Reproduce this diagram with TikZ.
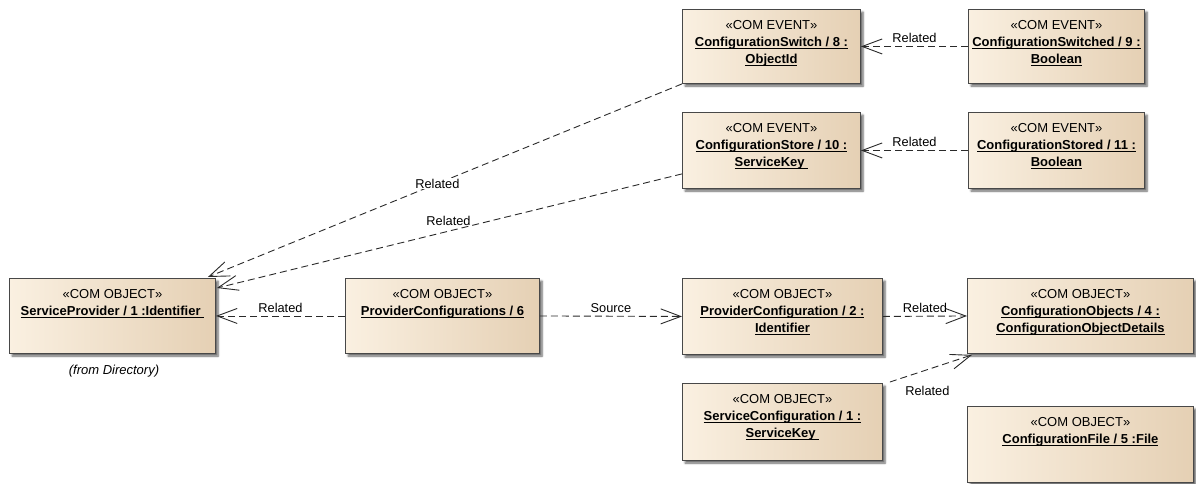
\documentclass[tikz,border=0pt]{standalone}
\usepackage{fontspec}
\setmainfont{Liberation Sans}
\usetikzlibrary{arrows.meta,shadows.blur,calc}

% underlined instance name
\newcommand\uname[1]{\setbox0=\hbox{#1}\rlap{\rule[-2.3pt]{\wd0}{1.2pt}}\box0}
\newcommand\stereo[1]{«#1»}

\definecolor{boxleft}{HTML}{FAF0E1}
\definecolor{boxright}{HTML}{E5D0B4}
\definecolor{boxedge}{HTML}{484848}
\definecolor{linkcol}{HTML}{2A2A2A}

\tikzset{
  umlbox/.style={draw=boxedge, line width=0.9pt, left color=boxleft, right color=boxright,
    anchor=north west, inner sep=0pt,
    blur shadow={shadow xshift=2.6pt, shadow yshift=-2.6pt, shadow blur radius=2pt,
      shadow blur steps=6, shadow opacity=60}},
  boxtext/.style={anchor=north, inner sep=0pt, align=center,
    font=\fontsize{13}{17}\selectfont},
  rel/.style={draw=linkcol, line width=0.9pt, dash pattern=on 7pt off 4pt,
    -{Straight Barb[length=20pt,width=15pt]}},
  rellabel/.style={inner sep=1pt, font=\fontsize{12.8}{15}\selectfont},
}

\begin{document}
\begin{tikzpicture}[x=1pt,y=-1pt]
\useasboundingbox (0,0) rectangle (1196,483);

% ---- boxes ----
\node[umlbox, minimum width=206pt, minimum height=75pt] (sp) at (9,278) {};
\node[boxtext, yshift=-11.5pt] (sptext) at (sp.north)
  {\stereo{COM OBJECT}\\\bfseries\uname{ServiceProvider / 1 :Identifier }};
\node[font=\fontsize{13}{15}\selectfont\itshape, inner sep=0pt] (spnote) at (114,371) {(from Directory)};

\node[umlbox, minimum width=194pt, minimum height=75pt] (pcs) at (345,278) {};
\node[boxtext, yshift=-11.5pt] (pcstext) at (pcs.north)
  {\stereo{COM OBJECT}\\\bfseries\uname{ProviderConfigurations / 6}};

\node[umlbox, minimum width=200pt, minimum height=76pt] (pc) at (682,278) {};
\node[boxtext, yshift=-11.5pt] (pctext) at (pc.north)
  {\stereo{COM OBJECT}\\\bfseries\uname{ProviderConfiguration / 2 :}\\\bfseries\uname{Identifier}};

\node[umlbox, minimum width=226pt, minimum height=75pt] (co) at (967,278) {};
\node[boxtext, yshift=-11.5pt] (cotext) at (co.north)
  {\stereo{COM OBJECT}\\\bfseries\uname{ConfigurationObjects / 4 :}\\\bfseries\uname{ConfigurationObjectDetails}};

\node[umlbox, minimum width=200pt, minimum height=77pt] (sc) at (682,383) {};
\node[boxtext, yshift=-11.5pt] (sctext) at (sc.north)
  {\stereo{COM OBJECT}\\\bfseries\uname{ServiceConfiguration / 1 :}\\\bfseries\uname{ServiceKey }};

\node[umlbox, minimum width=226pt, minimum height=76pt] (cf) at (967,406) {};
\node[boxtext, yshift=-11.5pt] (cftext) at (cf.north)
  {\stereo{COM OBJECT}\\\bfseries\uname{ConfigurationFile / 5 :File}};

\node[umlbox, minimum width=178pt, minimum height=74pt] (sw) at (682,9) {};
\node[boxtext, yshift=-11.5pt] (swtext) at (sw.north)
  {\stereo{COM EVENT}\\\bfseries\uname{ConfigurationSwitch / 8 :}\\\bfseries\uname{ObjectId}};

\node[umlbox, minimum width=176pt, minimum height=74pt] (sd) at (968,9) {};
\node[boxtext, yshift=-11.5pt] (sdtext) at (sd.north)
  {\stereo{COM EVENT}\\\bfseries\uname{ConfigurationSwitched / 9 :}\\\bfseries\uname{Boolean}};

\node[umlbox, minimum width=178pt, minimum height=76pt] (cs) at (682,112) {};
\node[boxtext, yshift=-11.5pt] (cstext) at (cs.north)
  {\stereo{COM EVENT}\\\bfseries\uname{ConfigurationStore / 10 :}\\\bfseries\uname{ServiceKey }};

\node[umlbox, minimum width=176pt, minimum height=76pt] (cd) at (968,112) {};
\node[boxtext, yshift=-11.5pt] (cdtext) at (cd.north)
  {\stereo{COM EVENT}\\\bfseries\uname{ConfigurationStored / 11 :}\\\bfseries\uname{Boolean}};

% ---- dependencies ----
\draw[rel] (sd.west) -- node[rellabel, pos=0.5, yshift=9pt] (l1) {Related} (sw.east);
\draw[rel] (cd.west) -- node[rellabel, pos=0.5, yshift=9pt] (l2) {Related} (cs.east);

\draw[rel] (sw.south west) -- node[rellabel, pos=0.516, fill=white] (l3) {Related}
  ($(sp.north east)+(-8,-1)$);
\draw[rel] ($(cs.south west)+(0,-15)$) -- node[rellabel, pos=0.502, yshift=10.5pt] (l4) {Related}
  ($(sp.north east)+(1,10)$);

\draw[rel] (pcs.west) -- node[rellabel, pos=0.5, yshift=8.5pt] (l5) {Related} (sp.east);
\draw[rel] (pcs.east) -- node[rellabel, pos=0.5, yshift=8.5pt] (l6) {Source} (pc.west);
\draw[rel] (pc.east) -- node[rellabel, pos=0.5, yshift=8pt] (l7) {Related} (co.west);
\draw[rel] ($(sc.north east)+(7,-1)$) -- node[rellabel, pos=0.457, yshift=-21pt] (l8) {Related}
  ($(co.south west)+(5,1)$);
\end{tikzpicture}
\end{document}
